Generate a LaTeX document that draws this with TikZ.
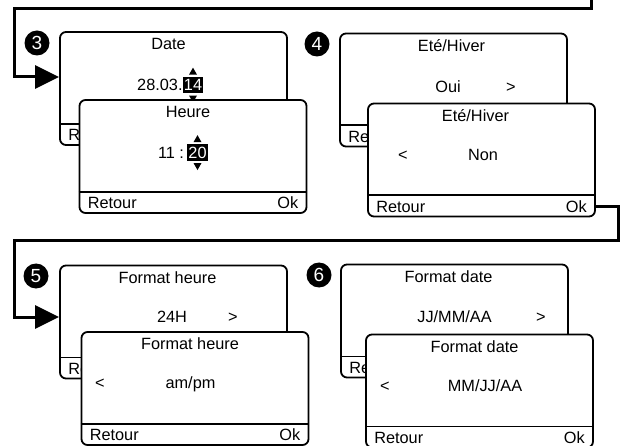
\documentclass[tikz,border=0pt]{standalone}
\usepackage{fontspec}
\setmainfont{Liberation Sans}
\usetikzlibrary{arrows.meta,calc}

\begin{document}
\begin{tikzpicture}[x=1pt, y=-1pt,
    every node/.style={font=\fontsize{16.3}{19}\selectfont, text height=11.5pt, text depth=0pt}]
  \tikzstyle{screen}=[draw, line width=1.8pt, rounded corners=6pt, fill=white,
                      minimum width=227pt, minimum height=113pt, inner sep=0pt]
  \tikzstyle{divider}=[line width=1.8pt]
  \tikzstyle{badge}=[circle, fill=black, text=white, minimum size=25pt, inner sep=0pt,
                     font=\fontsize{19}{20}\selectfont, text height=13.6pt]
  \tikzstyle{sel}=[fill=black, text=white, inner xsep=1pt, inner ysep=2.5pt]
  \tikzstyle{flow}=[line width=3pt, -{Triangle[length=24pt, width=23pt]}]
  \useasboundingbox (0,0) rectangle (626,446);

  % step 3: date, then time
  \node[badge] (b3) at (37,43) {3};
  \node[screen] (date) at (173.5,88.5) {};
  \draw[divider] ([yshift=22pt]date.south west) -- ([yshift=22pt]date.south east);
  \node (date-t) at ([xshift=-5pt, yshift=-13pt]date.north) {Date};
  \node[sel] (date-d) at ([xshift=19.5pt, yshift=-54pt]date.north) {14};
  \node[anchor=east, inner xsep=0pt] (date-v) at (date-d.west) {28.03.};
  \fill ([yshift=2pt]date-d.north) ++(-4,0) -- ++(8,0) -- ++(-4,-7) -- cycle;
  \fill ([yshift=-2pt]date-d.south) ++(-4,0) -- ++(8,0) -- ++(-4,7) -- cycle;
  \node[anchor=west, inner sep=0pt] (date-r) at ([xshift=9pt, yshift=11pt]date.south west) {Retour};
  \node[anchor=east, inner sep=0pt] (date-ok) at ([xshift=-9pt, yshift=11pt]date.south east) {Ok};

  \node[screen] (time) at (193,156.5) {};
  \draw[divider] ([yshift=22pt]time.south west) -- ([yshift=22pt]time.south east);
  \node (time-t) at ([xshift=-5pt, yshift=-13pt]time.north) {Heure};
  \node[sel] (time-d) at ([xshift=4.5pt, yshift=-53.5pt]time.north) {20};
  \node[anchor=east, inner xsep=3pt] (time-v) at (time-d.west) {11 :};
  \fill ([yshift=2pt]time-d.north) ++(-4,0) -- ++(8,0) -- ++(-4,-7) -- cycle;
  \fill ([yshift=-2pt]time-d.south) ++(-4,0) -- ++(8,0) -- ++(-4,7) -- cycle;
  \node[anchor=west, inner sep=0pt] (time-r) at ([xshift=9pt, yshift=11pt]time.south west) {Retour};
  \node[anchor=east, inner sep=0pt] (time-ok) at ([xshift=-9pt, yshift=11pt]time.south east) {Ok};

  % step 4: summer / winter time
  \node[badge] (b4) at (317,44) {4};
  \node[screen] (dstA) at (453.5,90) {};
  \draw[divider] ([yshift=22pt]dstA.south west) -- ([yshift=22pt]dstA.south east);
  \node (dstA-t) at ([xshift=-2pt, yshift=-13pt]dstA.north) {Eté/Hiver};
  \node (dstA-v) at ([xshift=-5.5pt, yshift=-54pt]dstA.north) {Oui};
  \node (dstA-n) at ([xshift=57.5pt, yshift=-54pt]dstA.north) {>};
  \node[anchor=west, inner sep=0pt] (dstA-r) at ([xshift=9pt, yshift=11pt]dstA.south west) {Retour};
  \node[anchor=east, inner sep=0pt] (dstA-ok) at ([xshift=-9pt, yshift=11pt]dstA.south east) {Ok};

  \node[screen] (dstB) at (481.5,160) {};
  \draw[divider] ([yshift=22pt]dstB.south west) -- ([yshift=22pt]dstB.south east);
  \node (dstB-t) at ([xshift=-6pt, yshift=-13pt]dstB.north) {Eté/Hiver};
  \node (dstB-v) at ([xshift=1.5pt, yshift=-52pt]dstB.north) {Non};
  \node (dstB-p) at ([xshift=-78.5pt, yshift=-52pt]dstB.north) {<};
  \node[anchor=west, inner sep=0pt] (dstB-r) at ([xshift=9pt, yshift=11pt]dstB.south west) {Retour};
  \node[anchor=east, inner sep=0pt] (dstB-ok) at ([xshift=-9pt, yshift=11pt]dstB.south east) {Ok};

  % step 5: time format
  \node[badge] (b5) at (36,276) {5};
  \node[screen] (hfmtA) at (173.5,322) {};
  \draw[divider] ([yshift=22pt]hfmtA.south west) -- ([yshift=22pt]hfmtA.south east);
  \node (hfmtA-t) at ([xshift=-6pt, yshift=-13pt]hfmtA.north) {Format heure};
  \node (hfmtA-v) at ([xshift=-1.5pt, yshift=-52pt]hfmtA.north) {24H};
  \node (hfmtA-n) at ([xshift=59.5pt, yshift=-52pt]hfmtA.north) {>};
  \node[anchor=west, inner sep=0pt] (hfmtA-r) at ([xshift=9pt, yshift=11pt]hfmtA.south west) {Retour};
  \node[anchor=east, inner sep=0pt] (hfmtA-ok) at ([xshift=-9pt, yshift=11pt]hfmtA.south east) {Ok};

  \node[screen] (hfmtB) at (195,388.5) {};
  \draw[divider] ([yshift=22pt]hfmtB.south west) -- ([yshift=22pt]hfmtB.south east);
  \node (hfmtB-t) at ([xshift=-5pt, yshift=-13pt]hfmtB.north) {Format heure};
  \node (hfmtB-v) at ([xshift=-4.5pt, yshift=-52pt]hfmtB.north) {am/pm};
  \node (hfmtB-p) at ([xshift=-95pt, yshift=-52pt]hfmtB.north) {<};
  \node[anchor=west, inner sep=0pt] (hfmtB-r) at ([xshift=9pt, yshift=11pt]hfmtB.south west) {Retour};
  \node[anchor=east, inner sep=0pt] (hfmtB-ok) at ([xshift=-9pt, yshift=11pt]hfmtB.south east) {Ok};

  % step 6: date format
  \node[badge] (b6) at (319,275) {6};
  \node[screen] (dfmtA) at (454.5,321) {};
  \draw[divider] ([yshift=22pt]dfmtA.south west) -- ([yshift=22pt]dfmtA.south east);
  \node (dfmtA-t) at ([xshift=-6pt, yshift=-13pt]dfmtA.north) {Format date};
  \node (dfmtA-v) at ([xshift=0pt, yshift=-53pt]dfmtA.north) {JJ/MM/AA};
  \node (dfmtA-n) at ([xshift=86.5pt, yshift=-53pt]dfmtA.north) {>};
  \node[anchor=west, inner sep=0pt] (dfmtA-r) at ([xshift=9pt, yshift=11pt]dfmtA.south west) {Retour};
  \node[anchor=east, inner sep=0pt] (dfmtA-ok) at ([xshift=-9pt, yshift=11pt]dfmtA.south east) {Ok};

  \node[screen] (dfmtB) at (479.5,391) {};
  \draw[divider] ([yshift=22pt]dfmtB.south west) -- ([yshift=22pt]dfmtB.south east);
  \node (dfmtB-t) at ([xshift=-5pt, yshift=-13pt]dfmtB.north) {Format date};
  \node (dfmtB-v) at ([xshift=5.5pt, yshift=-52pt]dfmtB.north) {MM/JJ/AA};
  \node (dfmtB-p) at ([xshift=-94.5pt, yshift=-52pt]dfmtB.north) {<};
  \node[anchor=west, inner sep=0pt] (dfmtB-r) at ([xshift=9pt, yshift=11pt]dfmtB.south west) {Retour};
  \node[anchor=east, inner sep=0pt] (dfmtB-ok) at ([xshift=-9pt, yshift=11pt]dfmtB.south east) {Ok};

  % flow between the steps
  \coordinate (feed) at (591,-5);
  \coordinate (turn3) at (14,77);
  \coordinate (turn5) at (14,317);
  \draw[flow] (feed) -- (591,9) -| (turn3) -- (date.west |- turn3);
  \draw[flow] (dstB-ok -| dstB.east) -| (618,241) -| (turn5) -- (hfmtA.west |- turn5);
\end{tikzpicture}
\end{document}
